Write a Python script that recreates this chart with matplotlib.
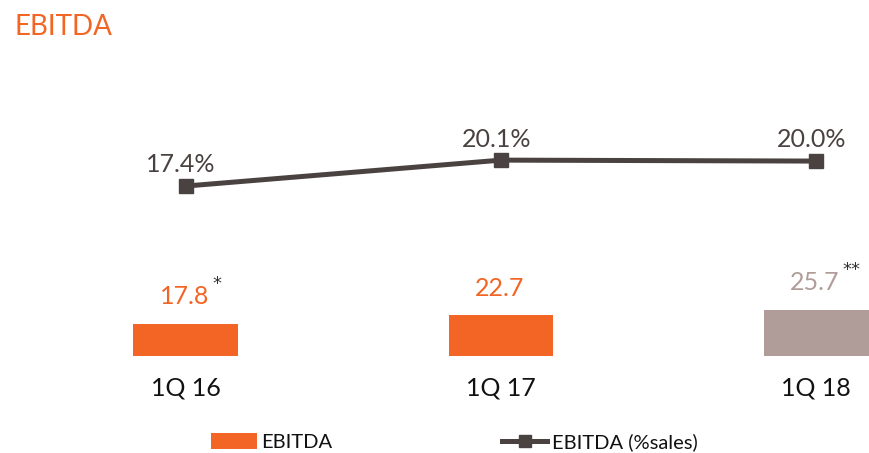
import matplotlib.pyplot as plt
from matplotlib.patches import Patch
from matplotlib.lines import Line2D

quarters = ['1Q 16', '1Q 17', '1Q 18']
ebitda = [17.8, 22.7, 25.7]
ebitda_pct = [17.4, 20.1, 20.0]
notes = ['*', '', '**']

orange = '#F26524'
grey_bar = '#B09D99'
dark = '#4A4241'
bar_colors = [orange, orange, grey_bar]

plt.rcParams['font.family'] = ['Lato', 'DejaVu Sans']

fig = plt.figure(figsize=(8.7, 4.53), dpi=100)
ax = fig.add_axes([0, 0, 1, 1])
ax.set_xlim(-0.590, 2.171)
ax.set_ylim(-53.9, 197.8)
ax.axis('off')

x = list(range(len(quarters)))
ax.bar(x, ebitda, width=0.333, color=bar_colors)

# value labels above the bars, with footnote marks
for i, v in enumerate(ebitda):
    ax.text(i - 0.005, v + 15, f'{v:.1f}', ha='center', va='center',
            fontsize=18, color=bar_colors[i])
    if notes[i]:
        ax.text(i + 0.085, v + 22, notes[i], ha='left', va='center',
                fontsize=13, color='#333333', family='DejaVu Sans')
    ax.text(i, -18, quarters[i], ha='center', va='center',
            fontsize=18, color='#111111')

# margin line on its own scale
ax2 = ax.twinx()
ax2.set_ylim(-10.41, 36.78)
ax2.axis('off')
ax2.plot(x, ebitda_pct, color=dark, linewidth=3.6, marker='s',
         markersize=10, markerfacecolor=dark, markeredgecolor=dark)
for i, v in enumerate(ebitda_pct):
    ax2.text(i - 0.015, v + 2.2, f'{v:.1f}%', ha='center', va='center',
             fontsize=18, color=dark)

fig.text(0.017, 0.940, 'EBITDA', ha='left', va='center', fontsize=20,
         color=orange)

handles = [Patch(facecolor=orange, edgecolor='none'),
           Line2D([], [], color=dark, linewidth=3.6, marker='s',
                  markersize=8, markerfacecolor=dark)]
leg = fig.legend(handles, ['EBITDA', 'EBITDA (%sales)'], ncol=2,
                 loc='center left', bbox_to_anchor=(0.222, 0.024),
                 frameon=False, handlelength=2.25,
                 handleheight=0.8, handletextpad=0.25, columnspacing=8.4,
                 prop={'family': ['Lato', 'DejaVu Sans'], 'size': 14.5})
for t in leg.get_texts():
    t.set_color('#111111')

fig.savefig('out.png', dpi=100)
